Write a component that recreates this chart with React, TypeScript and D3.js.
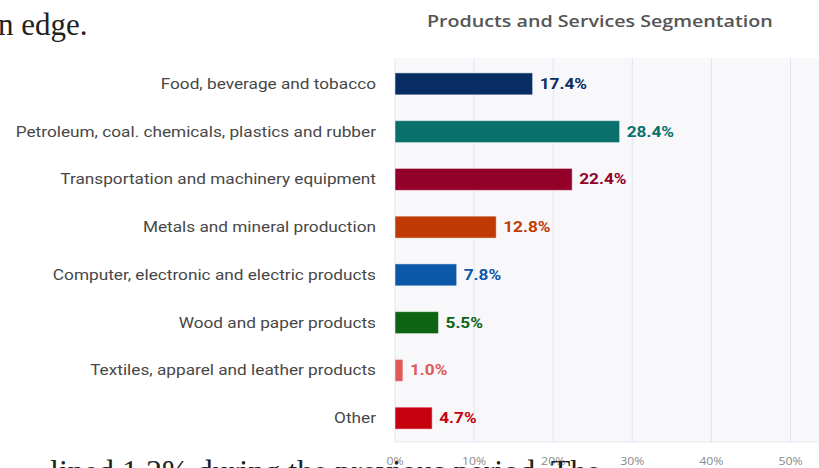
import React from "react";
import * as d3 from "d3";

const categories = [
  "Food, beverage and tobacco",
  "Petroleum, coal. chemicals, plastics and rubber",
  "Transportation and machinery equipment",
  "Metals and mineral production",
  "Computer, electronic and electric products",
  "Wood and paper products",
  "Textiles, apparel and leather products",
  "Other",
];
const values = [17.4, 28.4, 22.4, 12.8, 7.8, 5.5, 1.0, 4.7];
const colors = ["#082d62", "#0a706b", "#930029", "#bf3a05", "#0b57a8", "#0d6412", "#e05858", "#c7000e"];
const ticks = [0, 10, 20, 30, 40, 50];
const title = "Products and Services Segmentation";
const topText = "n edge.";
const bottomText = "lined 1.2% during the previous period. The";

const W = 819;
const H = 468;
const SX = 1.23;

function T(props: any) {
  const { x, y, children, ...rest } = props;
  return (
    <text transform={`translate(${x},${y}) scale(${SX},1)`} {...rest}>
      {children}
    </text>
  );
}

export default function App() {
  const x = d3.scaleLinear().domain([0, 50]).range([395, 790.5]);
  const y = d3.scaleBand<string>().domain(categories).range([60, 442]).paddingInner(0.54).paddingOuter(0.27);
  return (
    <div style={{ position: "fixed", left: 0, top: 0, width: W, height: H, overflow: "hidden", background: "#fff" }}>
      <svg width={W} height={H} style={{ display: "block" }}>
        <rect x={0} y={0} width={W} height={H} fill="#ffffff" />
        <rect x={x(0)} y={58} width={W - x(0)} height={442 - 58} fill="#f8f8fa" />
        {ticks.map((t) => (
          <line key={"g" + t} x1={x(t)} x2={x(t)} y1={58} y2={442} stroke="#dfe4f0" strokeWidth={1} />
        ))}
        <line x1={x(0)} x2={W} y1={442} y2={442} stroke="#e3e7f1" strokeWidth={1} />
        {ticks.map((t) => (
          <T key={"t" + t} x={x(t)} y={465} textAnchor="middle" fontFamily="'Open Sans', sans-serif" fontSize={10} fill="#8a8a8a">
            {t + "%"}
          </T>
        ))}
        {categories.map((c, i) => {
          const by = y(c)!;
          const bh = y.bandwidth();
          return (
            <g key={c}>
              <rect x={x(0)} y={by} width={x(values[i]) - x(0)} height={bh} fill={colors[i]} stroke="#ffffff" strokeOpacity={0.5} strokeWidth={1} />
              <T x={376} y={by + bh / 2} dy="0.35em" textAnchor="end" fontFamily="Roboto, sans-serif" fontSize={14} fill="#474747">
                {c}
              </T>
              <T x={x(values[i]) + 7} y={by + bh / 2} dy="0.35em" fontFamily="Roboto, sans-serif" fontWeight={700} fontSize={14} fill={colors[i]}>
                {values[i].toFixed(1) + "%"}
              </T>
            </g>
          );
        })}
        <T x={427} y={27} fontFamily="'Open Sans', sans-serif" fontWeight={600} fontSize={16} fill="#555">
          {title}
        </T>
        <text x={-2} y={35} fontFamily="'Liberation Serif', serif" fontSize={31} fill="#222">
          {topText}
        </text>
        <text x={50} y={482} fontFamily="'Liberation Serif', serif" fontSize={32} fill="#222">
          {bottomText}
        </text>
      </svg>
    </div>
  );
}
